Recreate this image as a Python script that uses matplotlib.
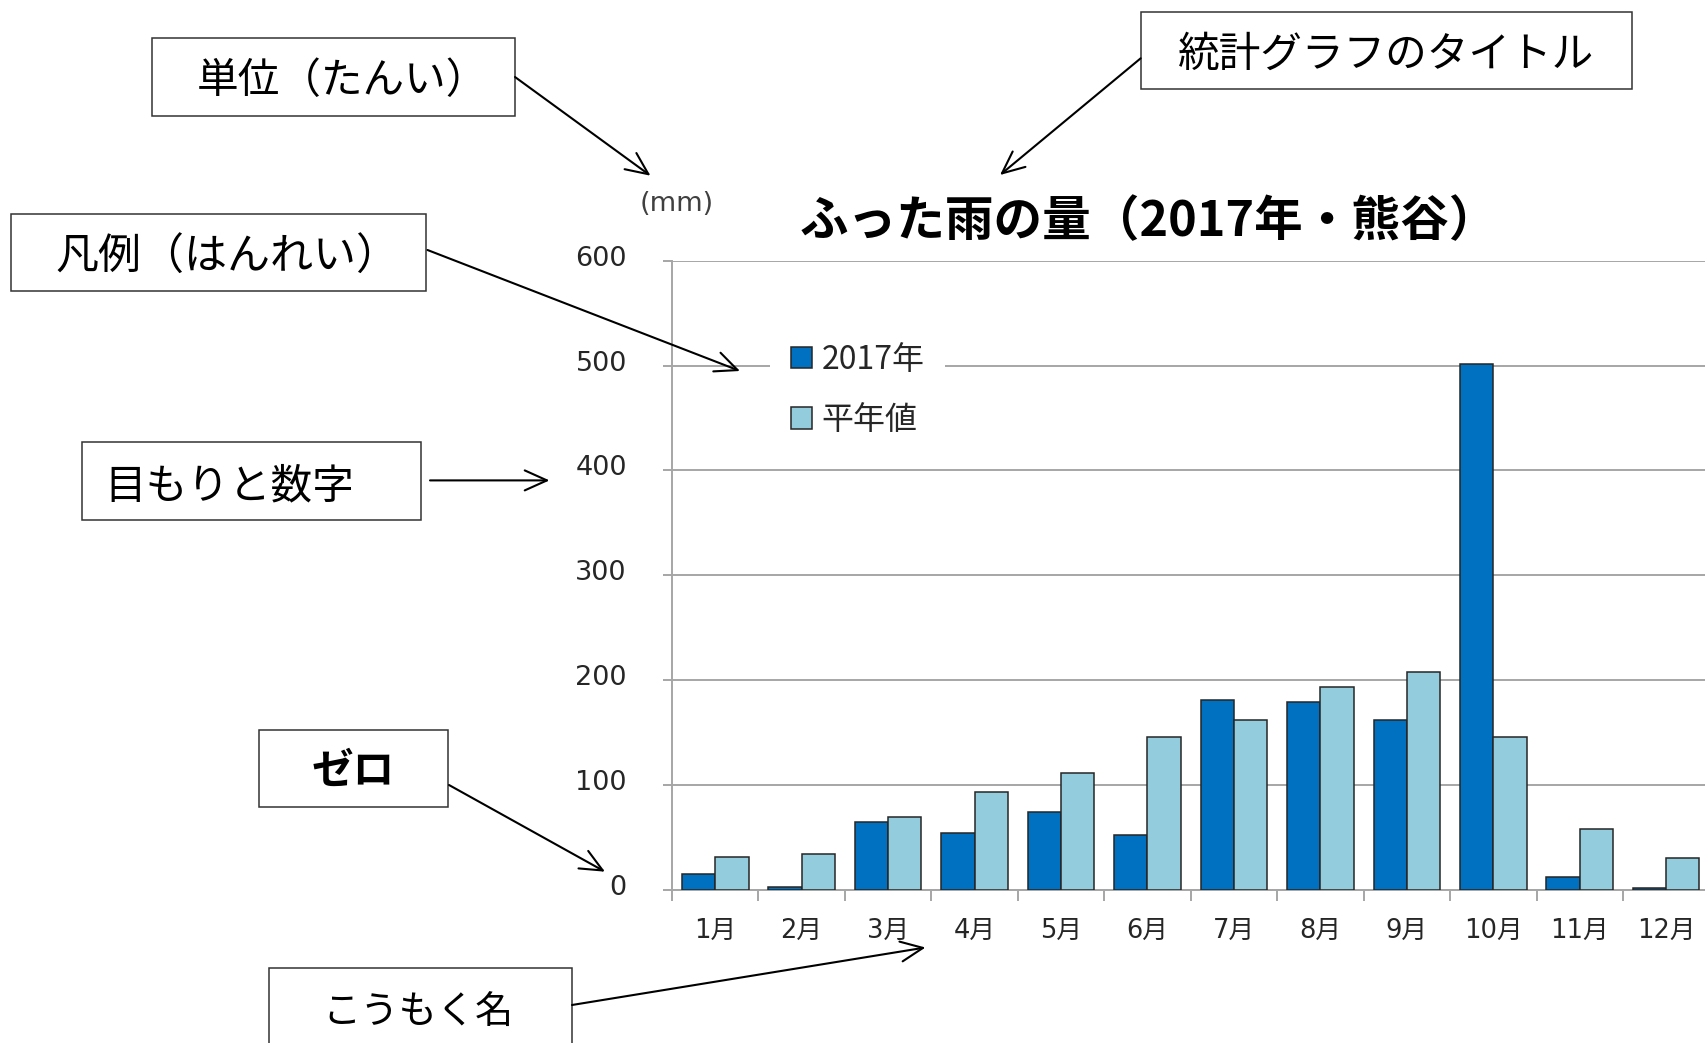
import numpy as np
import matplotlib
matplotlib.use('Agg')
import matplotlib.pyplot as plt
from matplotlib.patches import Rectangle, FancyArrowPatch
from matplotlib.transforms import ScaledTranslation

plt.rcParams['font.family'] = ['DejaVu Sans', 'Noto Sans CJK JP']

# data
months = ['1月', '2月', '3月', '4月', '5月', '6月', '7月', '8月', '9月', '10月', '11月', '12月']
rain_2017 = [15, 2.5, 64.5, 54, 74.5, 52.5, 180.5, 179, 161.5, 501.5, 12, 2]
rain_normal = [31.5, 34, 69, 93, 111, 146, 161.5, 193, 208, 146, 58, 30]
series_names = ['2017年', '平年値']
yticks = [0, 100, 200, 300, 400, 500, 600]
title = 'ふった雨の量（2017年・熊谷）'
unit = '(mm)'

# explanation boxes: text, box (x0, y0, x1, y1) in px from top-left, text centre,
# arrow start, arrow end, weight, size
notes = [
    ('単位（たんい）', (152, 38, 515, 115.7), (342, 78), (515, 77), (650.5, 175.7), 'normal', 30),
    ('凡例（はんれい）', (11, 213.6, 426.5, 291), (227, 253.6), (427.5, 250), (740, 371), 'normal', 31),
    ('目もりと数字', (81.6, 442, 421.4, 519.6), (229.5, 483), (430, 480.4), (549.5, 480.4), 'normal', 30),
    ('ゼロ', (259, 730, 448.3, 807.3), (353.3, 768), (449, 785), (605, 871.7), 'bold', 30),
    ('こうもく名', (269, 967.5, 571.7, 1070), (418, 1009), (572, 1005), (925.5, 947.5), 'normal', 27.5),
    ('統計グラフのタイトル', (1140.7, 11.7, 1632, 89.3), (1386, 51), (1140.7, 58.3), (1000, 175), 'normal', 30),
]

W, H = 1706, 1043
fig = plt.figure(figsize=(W / 100, H / 100), dpi=100)

def fx(x):
    return x / W

def fy(y):
    return 1 - y / H

grid_c = '#a6a6a6'
text_c = '#262626'

ax = fig.add_axes([fx(672), fy(889.6), (1709.4 - 672) / W, (889.6 - 260.9) / H])
x = np.arange(len(months))
w = 0.385
ax.bar(x - w / 2, rain_2017, w, color='#0070C0', edgecolor='#262626', linewidth=1.1,
       label=series_names[0], zorder=3)
ax.bar(x + w / 2, rain_normal, w, color='#93CDDD', edgecolor='#262626', linewidth=1.1,
       label=series_names[1], zorder=3)

ax.set_xlim(-0.5, 11.5)
ax.set_ylim(0, 600)
ax.set_yticks(yticks)
ax.yaxis.grid(True, color=grid_c, linewidth=1.4)
ax.set_axisbelow(True)
for s in ['top', 'right']:
    ax.spines[s].set_visible(False)
for s in ['left', 'bottom']:
    ax.spines[s].set_color(grid_c)
    ax.spines[s].set_linewidth(1.4)

ax.tick_params(axis='y', length=6.5, width=1.4, color=grid_c, pad=26,
               labelsize=19.5, labelcolor=text_c)
ax.set_xticks(x)
ax.set_xticklabels(months)
ax.set_xticks(np.arange(-0.5, 12, 1), minor=True)
ax.tick_params(axis='x', which='major', length=0, pad=20, labelsize=18.5, labelcolor=text_c)
ax.tick_params(axis='x', which='minor', length=8, width=1.4, color=grid_c)

off = ScaledTranslation(0, 5 / 100, fig.dpi_scale_trans)
for lab in ax.get_yticklabels():
    lab.set_transform(lab.get_transform() + off)

leg = ax.legend(loc='center left', bbox_to_anchor=(fx(770), fy(389.9)),
                bbox_transform=fig.transFigure,
                prop={'family': ['Noto Sans CJK JP'], 'size': 23},
                frameon=True, facecolor='white', edgecolor='none', framealpha=1,
                fancybox=False, borderpad=0.65, handlelength=0.66, handleheight=0.66,
                handletextpad=0.3, labelspacing=0.9, borderaxespad=0)
for t in leg.get_texts():
    t.set_color(text_c)

# title and unit
fig.text(fx(1148.5), fy(218 + 0.37 * 48.6), title, ha='center', va='baseline', fontsize=35,
         fontweight='bold', family=['Noto Sans CJK JP'], color='black')
fig.text(fx(677), fy(203.5), unit, ha='center', va='center', fontsize=19.5, color='#404040')

# explanation boxes and arrows
for label, (x0, y0, x1, y1), (tx, ty), p0, p1, wt, size in notes:
    em = size * 100 / 72
    fig.add_artist(Rectangle((fx(x0), fy(y1)), (x1 - x0) / W, (y1 - y0) / H,
                             transform=fig.transFigure, facecolor='white',
                             edgecolor='#333333', linewidth=1.1, zorder=4))
    fig.text(fx(tx), fy(ty + 0.37 * em), label, ha='center', va='baseline', fontsize=size,
             fontweight=wt, family=['Noto Sans CJK JP'], color='black', zorder=5)
    fig.add_artist(FancyArrowPatch((fx(p0[0]), fy(p0[1])), (fx(p1[0]), fy(p1[1])),
                                   transform=fig.transFigure,
                                   arrowstyle='->,head_length=1.0,head_width=0.45',
                                   mutation_scale=16, linewidth=1.5, color='black',
                                   shrinkA=0, shrinkB=0, zorder=5))

fig.savefig('out.png', dpi=100)
